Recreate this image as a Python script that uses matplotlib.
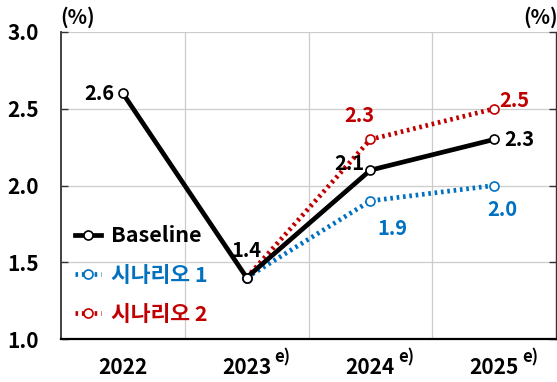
import matplotlib.pyplot as plt
import numpy as np

plt.rcParams['font.family'] = ['Noto Sans CJK KR', 'DejaVu Sans']
plt.rcParams['font.weight'] = 'bold'

years = ['2022', '2023', '2024', '2025']
year_sup = ['', 'e)', 'e)', 'e)']
baseline = [2.6, 1.4, 2.1, 2.3]
scen1 = [np.nan, 1.4, 1.9, 2.0]
scen2 = [np.nan, 1.4, 2.3, 2.5]
yticks = [1.0, 1.5, 2.0, 2.5, 3.0]

blue = '#0070C0'
red = '#C00000'

fig = plt.figure(figsize=(5.57, 3.82), dpi=100)
ax = fig.add_axes([61 / 557, 1 - 339 / 382, 495 / 557, 307 / 382])
x = np.arange(len(years))

ax.plot(x, scen2, color=red, lw=3.4, ls=(0, (0.55, 0.8)), marker='o', ms=6.5,
        mfc='white', mec=red, mew=1.2, label='시나리오 2', zorder=3)
ax.plot(x, scen1, color=blue, lw=3.4, ls=(0, (0.55, 0.8)), marker='o', ms=6.5,
        mfc='white', mec=blue, mew=1.2, label='시나리오 1', zorder=3)
ax.plot(x, baseline, color='black', lw=3.4, marker='o', ms=6.5,
        mfc='white', mec='black', mew=1.2, label='Baseline', zorder=4)

fs = 14.5
# value labels
ax.annotate(f'{baseline[0]}', (0, baseline[0]), xytext=(-6, 0), textcoords='offset points',
            ha='right', va='center', fontsize=fs, fontweight='bold')
ax.annotate(f'{baseline[1]}', (1, baseline[1]), xytext=(0, 12), textcoords='offset points',
            ha='center', va='bottom', fontsize=fs, fontweight='bold')
ax.annotate(f'{baseline[2]}', (2, baseline[2]), xytext=(-4, -3), textcoords='offset points',
            ha='right', va='bottom', fontsize=fs, fontweight='bold')
ax.annotate(f'{baseline[3]}', (3, baseline[3]), xytext=(7, 0), textcoords='offset points',
            ha='left', va='center', fontsize=fs, fontweight='bold')
ax.annotate(f'{scen2[2]}', (2, scen2[2]), xytext=(-8, 10), textcoords='offset points',
            ha='center', va='bottom', fontsize=fs, fontweight='bold', color=red)
ax.annotate(f'{scen2[3]}', (3, scen2[3]), xytext=(4, 6), textcoords='offset points',
            ha='left', va='center', fontsize=fs, fontweight='bold', color=red)
ax.annotate(f'{scen1[2]}', (2, scen1[2]), xytext=(16, -12), textcoords='offset points',
            ha='center', va='top', fontsize=fs, fontweight='bold', color=blue)
ax.annotate(f'{scen1[3]}', (3, scen1[3]), xytext=(6, -10), textcoords='offset points',
            ha='center', va='top', fontsize=fs, fontweight='bold', color=blue)

ax.set_xlim(-0.5, 3.5)
ax.set_ylim(1.0, 3.0)
ax.set_yticks(yticks)
ax.set_yticklabels([f'{v:.1f}' for v in yticks], fontsize=fs + 0.5, fontweight='bold')
ax.set_xticks(x)
ax.set_xticklabels(years, fontsize=fs + 0.5, fontweight='bold')
ax.set_xticks(x[:-1] + 0.5, minor=True)
ax.tick_params(axis='x', which='both', length=0, pad=13)
ax.tick_params(axis='y', direction='in', length=5, pad=16, right=True, width=1, color='#333333')
ax.grid(axis='y', color='#CCCCCC', lw=0.9)
ax.grid(axis='x', which='minor', color='#CCCCCC', lw=0.9)
ax.set_axisbelow(True)

for t, s in zip(ax.get_xticklabels(), year_sup):
    if s:
        ax.annotate(s, (t.get_position()[0], 0), xycoords=('data', 'axes fraction'),
                    xytext=(20, -20), textcoords='offset points', ha='left', va='bottom',
                    fontsize=12, fontweight='bold')

ax.spines['top'].set_visible(False)
ax.spines['left'].set_color('#333333')
ax.spines['left'].set_linewidth(1.3)
ax.spines['right'].set_color('#333333')
ax.spines['right'].set_linewidth(1.0)
ax.spines['bottom'].set_color('black')
ax.spines['bottom'].set_linewidth(1.6)

fig.text(78 / 557, 1 - 17 / 382, '(%)', ha='center', va='center', fontsize=fs, fontweight='bold')
fig.text(541 / 557, 1 - 17 / 382, '(%)', ha='center', va='center', fontsize=fs, fontweight='bold')

handles, labels = ax.get_legend_handles_labels()
leg = ax.legend(handles[::-1], labels[::-1], loc='lower left', bbox_to_anchor=(0.0, 0.0),
                frameon=False, fontsize=15.5, handlelength=1.2, handletextpad=0.45,
                labelspacing=0.85, borderaxespad=0.25)
for txt, c in zip(leg.get_texts(), ['black', blue, red]):
    txt.set_color(c)
    txt.set_fontweight('bold')

fig.savefig('out.png', dpi=100)
